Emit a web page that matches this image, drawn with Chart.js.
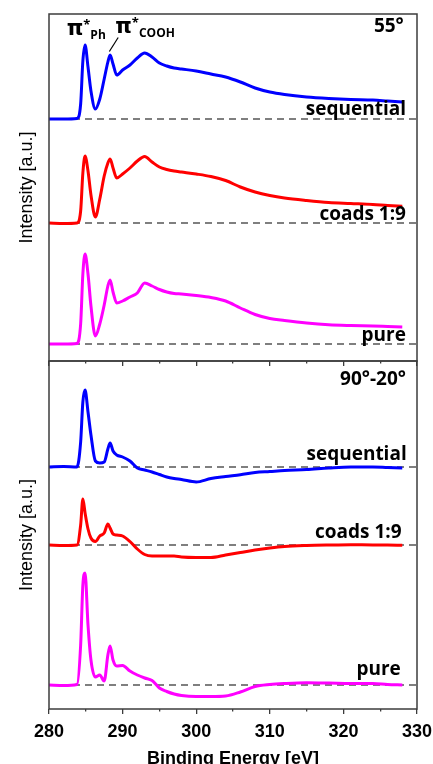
<!DOCTYPE html>
<html>
<head>
<meta charset="utf-8">
<script src="https://cdn.jsdelivr.net/npm/chart.js@4/dist/chart.umd.min.js"></script>
<style>
  html, body { margin: 0; padding: 0; background: #fff; }
  #wrap { position: relative; width: 433px; height: 764px; overflow: hidden; }
  canvas { position: absolute; left: 0; }
</style>
</head>
<body>
<div id="wrap">
  <canvas id="topChart" width="433" height="369" style="top:0"></canvas>
  <canvas id="bottomChart" width="433" height="409" style="top:355px"></canvas>
</div>
<script>
// photon energy grid (eV) shared by all spectra
const energy = [280, 282, 283.8, 284.3, 284.6, 284.9, 285.3, 285.7, 286.3, 286.9, 287.5, 288.0, 288.3, 288.7, 289.2,
  290, 291, 292, 293, 294, 295, 296, 297, 298, 300, 302, 304, 306, 308, 310, 312, 315, 318, 321, 324, 326, 328];

// 55 deg spectra (intensity above own baseline, a.u.)
const top55Sequential = [0, 0, 0.5, 15, 58, 74, 52, 28, 10, 20, 40, 57, 64, 55, 44,
  49, 54, 61, 66, 62, 56, 53, 51, 50, 48, 45, 42, 37, 31, 27, 24.5, 22, 20.5, 19.5, 19, 18, 17];
const top55Coads = [0, -0.5, 0, 12, 50, 67, 52, 28, 6, 24, 47, 60, 64, 55, 45,
  49, 55, 62, 66.5, 61, 56, 53.5, 52, 51, 49, 46.5, 42.5, 36, 31, 27.5, 25, 22.5, 20.5, 19.5, 18.5, 17.5, 16.7];
const top55Pure = [0, 0, 0.5, 20, 70, 90, 70, 38, 8, 20, 39, 58, 64, 52, 41,
  43, 47, 51, 61, 58, 54.5, 52, 50.5, 50, 48.5, 46.5, 43, 36, 29.5, 25.5, 23.5, 21, 19.3, 18.5, 18, 17.5, 17];

// 90-20 deg difference spectra
const diffSequential = [0, 0.5, 0, 25, 65, 77, 55, 32, 6, 4, 5, 18, 24, 16, 12,
  10, 6, -1, -3, -5, -7.5, -10, -11.5, -12.5, -15, -11.5, -9.5, -7.7, -5.5, -4.5, -3.5, -2.5, -1, 0, 0, -0.5, -1];
const diffCoads = [0, -0.5, 0, 20, 46, 32, 16, 7, 3.5, 9, 12, 21, 17, 11, 10,
  9, 3.5, -4, -9.5, -11, -11, -11, -11, -12, -12.5, -12.5, -10, -7.5, -5, -3, -1.5, -0.5, 0, 0.3, 0, 0, -0.3];
const diffPure = [0, -0.5, 0.5, 40, 100, 112, 60, 25, 8, 10, 4, 30, 39, 25, 19,
  19.5, 14, 10, 7, 4.5, -3, -6.5, -9, -10.5, -11.5, -11.5, -11, -7, -1.5, 0.5, 1.5, 2.3, 2, 1.5, 1.5, 0.5, 0];

const curveNames = ['sequential', 'coads 1:9', 'pure'];
const curveColors = ['#0000ff', '#ff0000', '#ff00ff'];
const topOffsets = [242, 138, 17];
const bottomOffsets = [242, 164, 24];
const panelTitles = ['55°', '90°-20°'];

const labelFont = 'bold 19px "Open Sans"';

const frame = {
  id: 'frame',
  afterDraw(chart) {
    const {ctx, chartArea: a} = chart;
    ctx.save();
    ctx.strokeStyle = '#3c3c3c';
    ctx.lineWidth = 1.5;
    ctx.strokeRect(a.left, a.top, a.right - a.left, a.bottom - a.top);
    ctx.restore();
  }
};

const panelText = {
  id: 'panelText',
  afterDatasetsDraw(chart, args, opts) {
    const {ctx, scales: {x, y}} = chart;
    ctx.save();
    ctx.fillStyle = '#000';
    ctx.textBaseline = 'alphabetic';
    (opts.labels || []).forEach(l => {
      ctx.font = l.font;
      ctx.textAlign = 'right';
      ctx.fillText(l.text, x.getPixelForValue(l.x), y.getPixelForValue(l.y));
    });
    (opts.peaks || []).forEach(p => {
      let px = x.getPixelForValue(p.x);
      const py = y.getPixelForValue(p.y);
      ctx.textAlign = 'left';
      p.parts.forEach(([t, f, dy]) => {
        ctx.font = f;
        ctx.fillText(t, px, py + dy);
        px += ctx.measureText(t).width;
      });
    });
    (opts.leaders || []).forEach(l => {
      ctx.strokeStyle = '#000';
      ctx.lineWidth = 1.2;
      ctx.beginPath();
      ctx.moveTo(x.getPixelForValue(l.x1), y.getPixelForValue(l.y1));
      ctx.lineTo(x.getPixelForValue(l.x2), y.getPixelForValue(l.y2));
      ctx.stroke();
    });
    ctx.restore();
  }
};

function buildDatasets(series, offsets) {
  const curves = series.map((vals, i) => ({
    label: curveNames[i],
    data: energy.map((e, k) => ({x: e, y: offsets[i] + vals[k]})),
    borderColor: curveColors[i],
    borderWidth: 3,
    pointRadius: 0,
    cubicInterpolationMode: 'monotone',
    order: 0
  }));
  const baselines = offsets.map(o => ({
    data: [{x: 280, y: o}, {x: 330, y: o}],
    borderColor: '#555',
    borderWidth: 1.3,
    borderDash: [7, 5],
    pointRadius: 0,
    order: 1
  }));
  return curves.concat(baselines);
}

const tickGrid = {
  drawOnChartArea: false,
  drawTicks: true,
  tickLength: 5,
  color: '#3c3c3c',
  lineWidth: 1.3,
  tickBorderDash: c => (c.tick && c.tick.value % 10 !== 0) ? [2.5, 20] : []
};

function yAxis(max) {
  return {
    min: 0, max: max,
    ticks: {display: false},
    grid: {display: false},
    border: {display: false},
    title: {
      display: true, text: 'Intensity [a.u.]', color: '#000',
      font: {family: '"Liberation Sans", Arial', size: 18},
      padding: {top: 16, bottom: 0}
    },
    afterFit: s => { s.width = 49; }
  };
}

function makeCharts() {
  new Chart(document.getElementById('topChart'), {
    type: 'line',
    data: {datasets: buildDatasets([top55Sequential, top55Coads, top55Pure], topOffsets)},
    options: {
      responsive: false, animation: false,
      layout: {padding: {top: 14, right: 16, left: 0, bottom: 0}},
      plugins: {
        legend: {display: false}, tooltip: {enabled: false},
        panelText: {
          labels: curveNames.map((t, i) => ({text: t, font: labelFont, x: 328.5, y: topOffsets[i] + [4, 3, 3][i]}))
            .concat([{text: panelTitles[0], font: labelFont, x: 328.2, y: 329}]),
          peaks: [
            {x: 282.4, y: 326, parts: [['π', 'bold 21px "DejaVu Sans"', 0], ['*', 'bold 13px "Open Sans"', -6], ['Ph', 'bold 12px "Open Sans"', 4]]},
            {x: 289.0, y: 327.7, parts: [['π', 'bold 21px "DejaVu Sans"', 0], ['*', 'bold 13px "Open Sans"', -6], ['COOH', 'bold 12px "Open Sans"', 4]]}
          ],
          leaders: [{x1: 289.4, y1: 323.5, x2: 288.2, y2: 309.5}]
        }
      },
      scales: {
        x: {
          type: 'linear', position: 'bottom', min: 280, max: 330,
          ticks: {display: false, stepSize: 5},
          grid: tickGrid,
          border: {display: false},
          afterFit: s => { s.height = 8; s.paddingLeft = 0; s.paddingRight = 0; }
        },
        y: yAxis(347)
      }
    },
    plugins: [frame, panelText]
  });

  new Chart(document.getElementById('bottomChart'), {
    type: 'line',
    data: {datasets: buildDatasets([diffSequential, diffCoads, diffPure], bottomOffsets)},
    options: {
      responsive: false, animation: false,
      layout: {padding: {top: 6, right: 16, left: 0, bottom: 0}},
      plugins: {
        legend: {display: false}, tooltip: {enabled: false},
        panelText: {
          labels: curveNames.map((t, i) => ({text: t, font: labelFont, x: [328.6, 327.9, 327.8][i], y: bottomOffsets[i] + [7, 7, 10][i]}))
            .concat([{text: panelTitles[1], font: labelFont, x: 328.5, y: 324}])
        }
      },
      scales: {
        x: {
          type: 'linear', position: 'bottom', min: 280, max: 330,
          ticks: {
            stepSize: 5, autoSkip: false, maxRotation: 0, padding: 7, color: '#000',
            font: {family: '"Liberation Sans", Arial', size: 18, weight: 'bold'},
            callback: v => (v % 10 === 0 ? v : '')
          },
          grid: tickGrid,
          border: {display: false},
          title: {
            display: true, text: 'Binding Energy [eV]', color: '#000',
            font: {family: '"Liberation Sans", Arial', size: 18, weight: 'bold', lineHeight: 0.6},
            padding: {top: 0, bottom: 0}
          },
          afterFit: s => { s.height = 55; s.paddingLeft = 0; s.paddingRight = 0; }
        },
        y: yAxis(348)
      }
    },
    plugins: [frame, panelText]
  });
}

Promise.all([
  document.fonts.load('bold 19px "Open Sans"'),
  document.fonts.load('bold 21px "DejaVu Sans"'),
  document.fonts.load('18px "Liberation Sans"'),
  document.fonts.load('bold 18px "Liberation Sans"')
]).then(makeCharts, makeCharts);
</script>
</body>
</html>
